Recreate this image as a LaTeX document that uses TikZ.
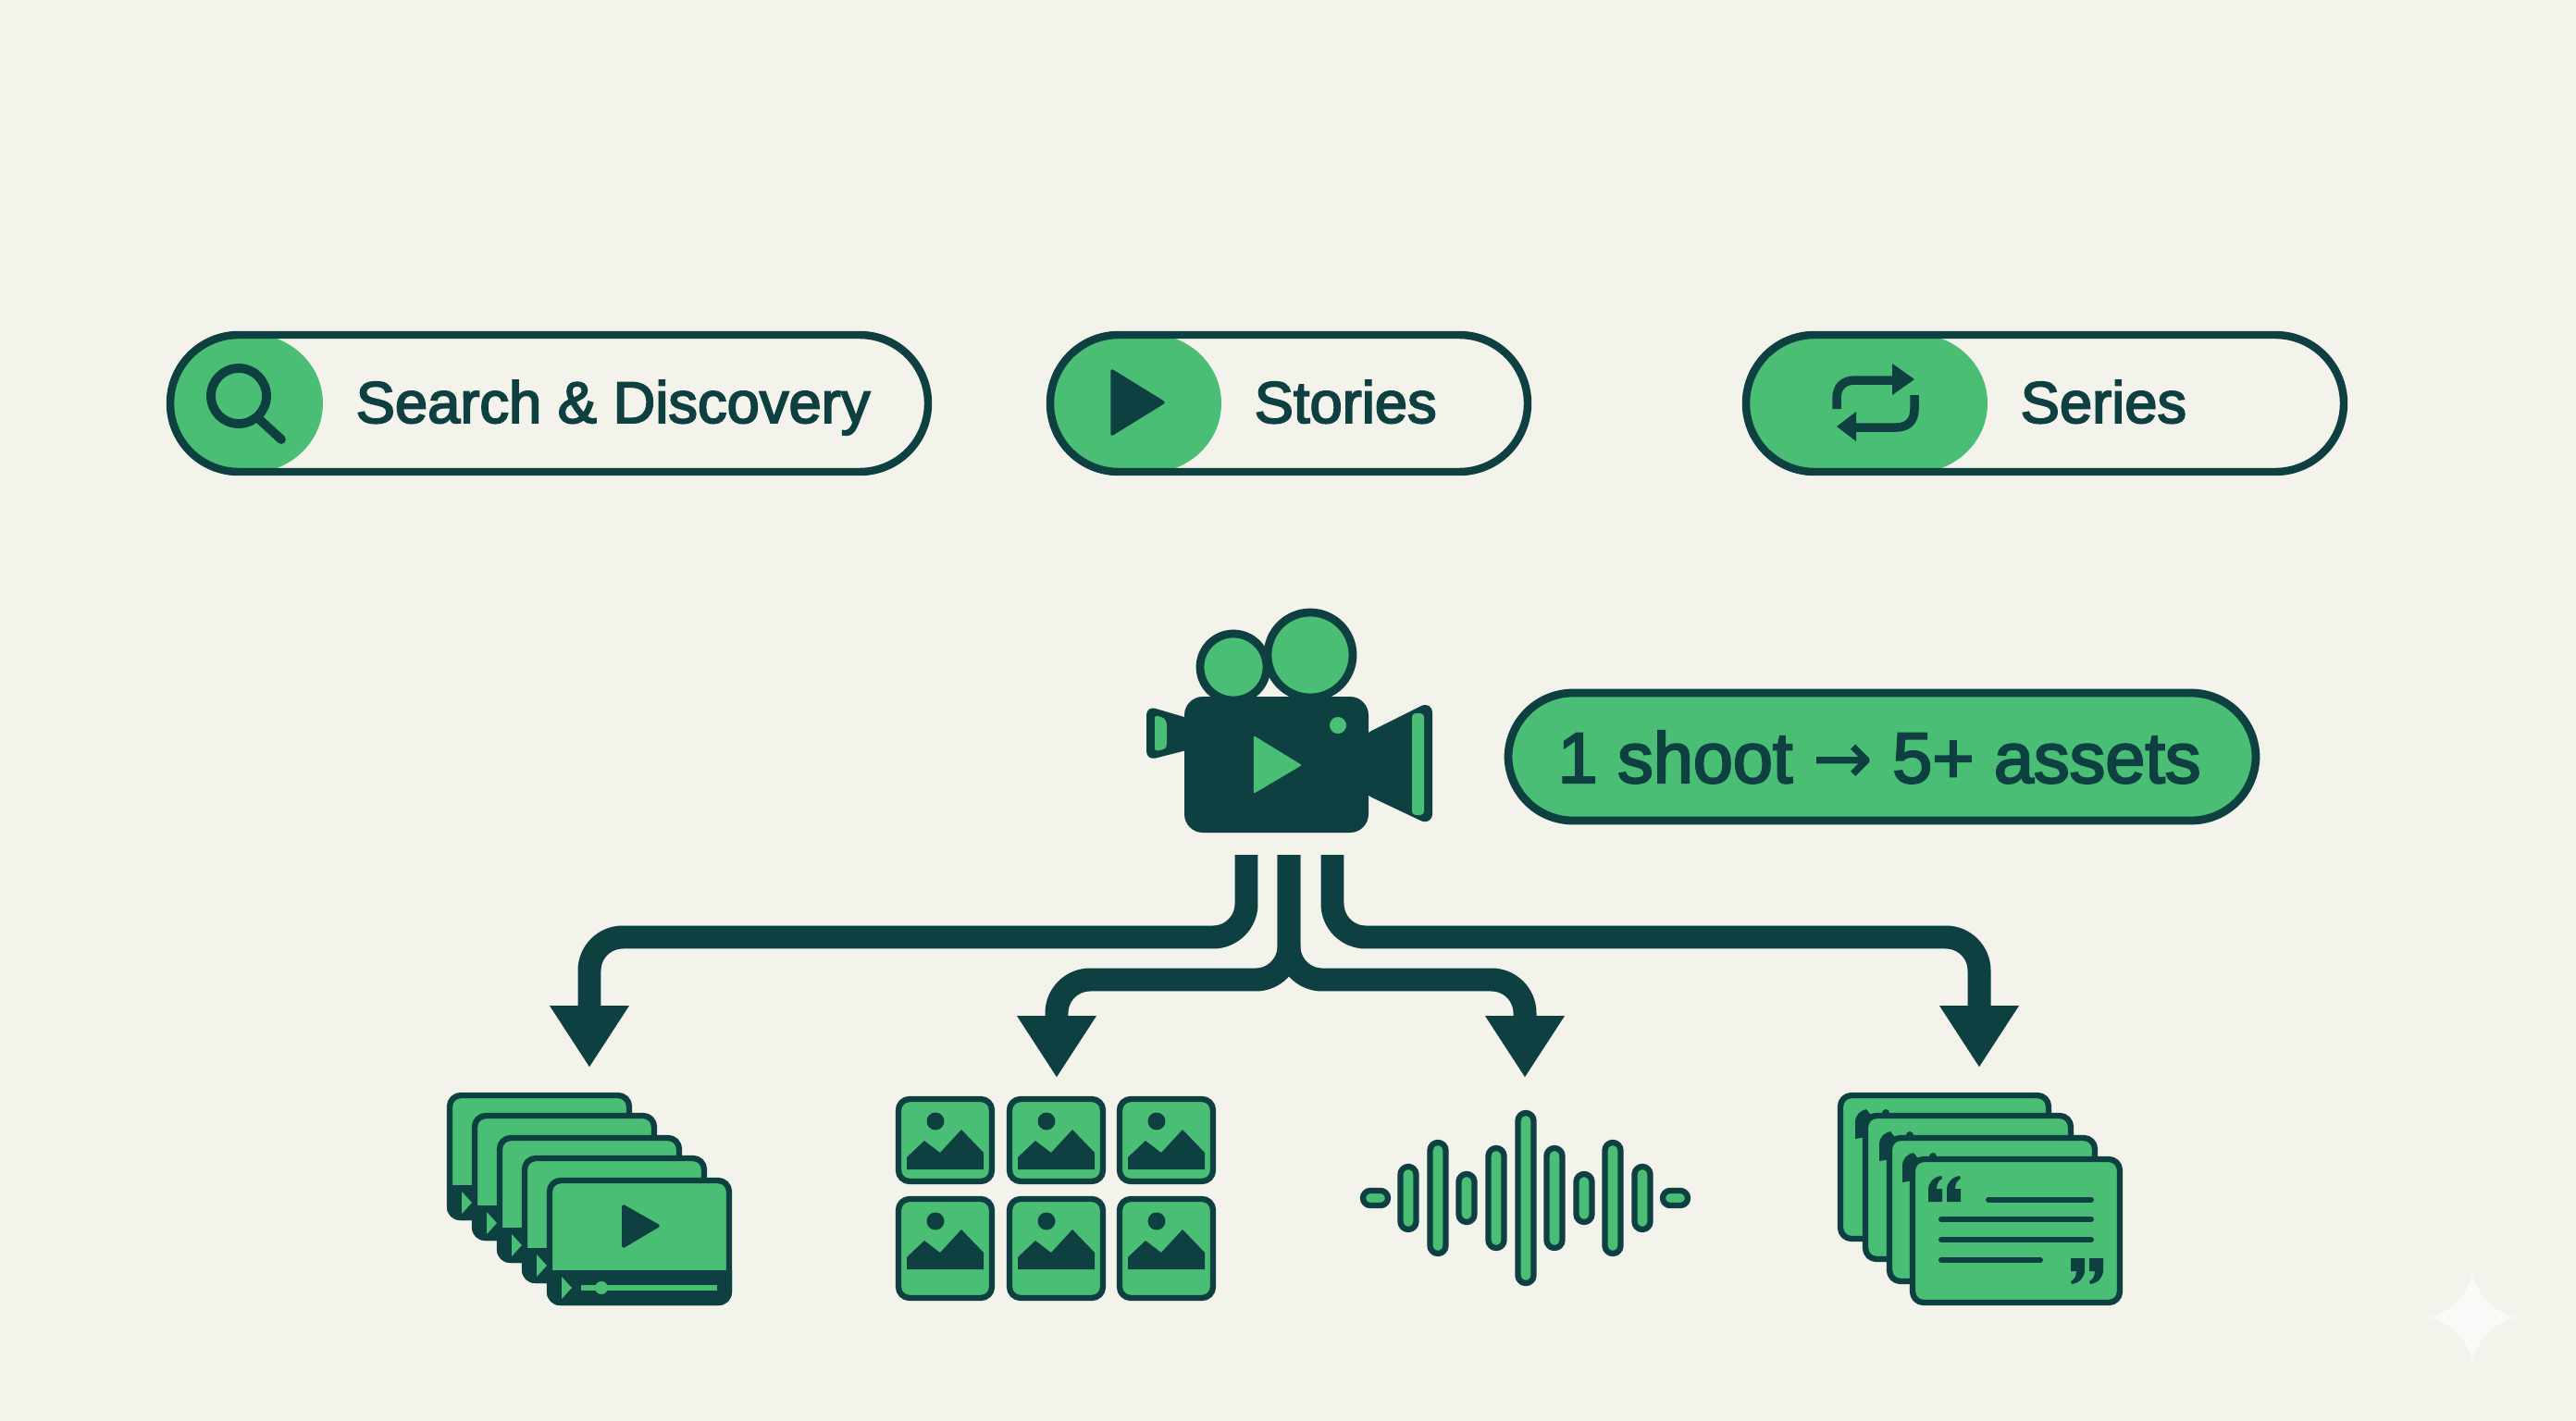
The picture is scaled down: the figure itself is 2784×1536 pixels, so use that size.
\documentclass[tikz,border=0pt]{standalone}
\usepackage{fontspec}
\setmainfont{Liberation Sans}[FakeBold=3]
\newfontfamily\arrowfont{DejaVu Sans}[FakeBold=1]
\usetikzlibrary{arrows.meta}
\definecolor{ink}{HTML}{0F4041}
\definecolor{leaf}{HTML}{4ABE74}
\definecolor{paper}{HTML}{F3F3EC}
\definecolor{spark}{HTML}{F7FAF6}
\tikzset{
  pilltext/.style={anchor=base west,inner sep=0pt,text=ink,font=\fontsize{18pt}{20pt}\selectfont},
  outline/.style={draw=ink,fill=leaf,line width=1.8pt,line join=round},
  flow/.style={draw=ink,line width=7.1pt,rounded corners=0.36cm,-{Triangle[length=19pt,width=23pt]}},
  closequote/.pic={
    \fill[ink] (0,0) -- (15,0) -- (15,13) .. controls (15,21) and (9,27) .. (1,28)
      -- (0,25) .. controls (4,23) and (6,19) .. (6,14) -- (0,14) -- cycle;
  },
}
% one bar with its green cap: left, right, end of the cap
\newcommand{\pillbar}[3]{
  \begin{scope}
    \clip[rounded corners=0.78cm] (#1,358) rectangle (#2,514);
    \fill[leaf] (#1,358) rectangle (#3-78,514);
    \fill[leaf] (#3-78,436) ellipse (78 and 75);
  \end{scope}
  \draw[ink,line width=2.4pt,rounded corners=0.74cm] (#1+4,362) rectangle (#2-4,510);
}
\begin{document}
\begin{tikzpicture}[x=0.01cm,y=-0.01cm]
\useasboundingbox (0,0) rectangle (2784,1536);
\fill[paper] (0,0) rectangle (2784,1536);
% bars
\pillbar{180}{1007}{349}
\pillbar{1131}{1655}{1320}
\pillbar{1883}{2537}{2148}
\node[pilltext] (search) at (384,457) {Search \& Discovery};
\node[pilltext] (stories) at (1355,457) {Stories};
\node[pilltext] (series) at (2183,457) {Series};
% bar icons
\draw[ink,line width=2.8pt] (258,428) circle (30);
\draw[ink,line width=2.8pt,line cap=round] (280,453) -- (304,475);
\fill[ink,draw=ink,line width=1pt,line join=round] (1202,401) -- (1257,435) -- (1202,469) -- cycle;
\draw[ink,line width=2.7pt] (1985,442) -- (1985,431) .. controls (1985,418) and (1992,411) .. (2005,411) -- (2046,411);
\fill[ink] (2045,393) -- (2069,410) -- (2045,427) -- cycle;
\draw[ink,line width=2.7pt] (2069,427) -- (2069,442) .. controls (2069,455) and (2062,462) .. (2049,462) -- (2006,462);
\fill[ink] (2006,445) -- (1985,461) -- (2006,477) -- cycle;
% badge
\draw[outline,line width=2.5pt,rounded corners=0.7cm] (1630,749) rectangle (2438,887);
\node[pilltext,font=\fontsize{22pt}{24pt}\selectfont] (badge) at (1683,846) {1 shoot {\arrowfont →} 5+ assets};
% camera
\draw[outline,line width=2.5pt] (1333,721) circle (36);
\draw[outline,line width=2.5pt] (1416,708) circle (46);
\fill[ink,rounded corners=0.2cm] (1280,753) rectangle (1479,900);
\fill[ink,rounded corners=0.14cm] (1470,796) -- (1548,757) -- (1548,893) -- (1470,856) -- cycle;
\fill[ink,rounded corners=0.1cm] (1290,778) -- (1239,763) -- (1239,822) -- (1290,809) -- cycle;
\fill[leaf,rounded corners=0.04cm] (1526,771) rectangle (1539,881);
\fill[leaf,rounded corners=0.03cm] (1248,773) -- (1258,776) -- (1261,781) -- (1261,807) -- (1258,810) -- (1248,812) -- cycle;
\fill[leaf] (1446,784) circle (9);
\fill[leaf,draw=leaf,line width=0.6pt,line join=round] (1356,797) -- (1405,827) -- (1356,856) -- cycle;
% connectors
\coordinate (camLeft) at (1347,924);
\coordinate (camMid) at (1393,924);
\coordinate (camRight) at (1440,924);
\coordinate (videoBus) at (637,1013);
\coordinate (videoTip) at (637,1154);
\coordinate (imageBus) at (1142,1059);
\coordinate (imageTip) at (1142,1165);
\coordinate (audioBus) at (1648,1059);
\coordinate (audioTip) at (1648,1165);
\coordinate (quoteBus) at (2139,1013);
\coordinate (quoteTip) at (2139,1154);
\draw[flow] (camLeft) |- (videoBus) -- (videoTip);
\draw[flow] (camMid) |- (imageBus) -- (imageTip);
\draw[flow] (camMid) |- (audioBus) -- (audioTip);
\draw[flow] (camRight) |- (quoteBus) -- (quoteTip);
% stack of videos
\foreach \x/\y in {483/1181,510/1203,537/1227,564/1249,591/1273}{
  \begin{scope}[shift={(\x,\y)}]
    \draw[outline,rounded corners=0.12cm] (3,3) rectangle (197,135);
    \fill[ink] (0,100) [rounded corners=0.14cm] -- (0,138) -- (200,138) [sharp corners] -- (200,100) -- cycle;
    \fill[leaf] (16,107) -- (27,119) -- (16,131) -- cycle;
  \end{scope}
}
\fill[ink,draw=ink,line width=1pt,line join=round] (674,1304) -- (711,1325) -- (674,1347) -- cycle;
\draw[leaf,line width=1.5pt] (628,1392) -- (775,1392);
\fill[leaf] (650,1392) circle (7);
% image grid
\foreach \x in {968,1088,1207}{
  \foreach \y/\h in {1185/95,1293/113}{
    \begin{scope}[shift={(\x,\y)}]
      \draw[outline,rounded corners=0.12cm] (3,3) rectangle (104,\h-3);
      \fill[ink] (43,27) circle (9.5);
      \fill[ink] (12,79) -- (12,66) -- (31,48) -- (48,61) -- (71,36) -- (95,61) -- (95,79) -- cycle;
    \end{scope}
  }
}
% sound wave
\foreach \x/\r in {1522/34,1554/60,1585/26,1617/54,1649/92,1680/54,1712/26,1743/60,1775/34}{
  \draw[outline,rounded corners=0.085cm] (\x-8.5,1295-\r) rectangle (\x+8.5,1295+\r);
}
\draw[outline,rounded corners=0.08cm] (1473,1287) rectangle (1500,1303);
\draw[outline,rounded corners=0.08cm] (1797,1287) rectangle (1824,1303);
% stack of quotes
\foreach \x/\y/\w in {1986/1181/231,2013/1203/228,2039/1227/228,2064/1250/230}{
  \begin{scope}[shift={(\x,\y)}]
    \ifnum\x>1986
      \fill[ink] (-8,28) -- (-8,10) .. controls (-8,2) and (-2,-3) .. (4,-4) -- (12,6) -- (4,26) -- cycle;
      \fill[ink] (25,0) circle (4);
    \fi
    \draw[outline,rounded corners=0.12cm] (3,3) rectangle (\w-3,158);
  \end{scope}
}
\draw[ink,line width=1.7pt,line cap=round] (2149,1297) -- (2260,1297);
\draw[ink,line width=1.7pt,line cap=round] (2098,1318) -- (2260,1318);
\draw[ink,line width=1.7pt,line cap=round] (2098,1340) -- (2260,1340);
\draw[ink,line width=1.7pt,line cap=round] (2098,1362) -- (2205,1362);
\pic[rotate=180] at (2099,1299) {closequote};
\pic[rotate=180] at (2119,1299) {closequote};
\pic at (2238,1360) {closequote};
\pic at (2258,1360) {closequote};
% sparkle
\fill[spark] (2672,1376) .. controls (2677,1400) and (2695,1419) .. (2720,1424)
  .. controls (2695,1429) and (2677,1448) .. (2672,1472)
  .. controls (2667,1448) and (2649,1429) .. (2624,1424)
  .. controls (2649,1419) and (2667,1400) .. (2672,1376) -- cycle;
\end{tikzpicture}
\end{document}
